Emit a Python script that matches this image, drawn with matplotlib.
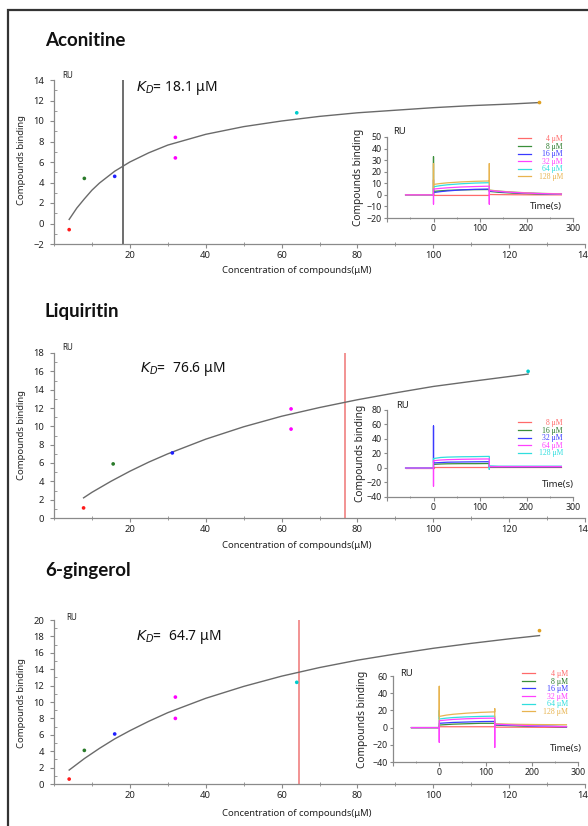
import matplotlib
matplotlib.use("Agg")
import matplotlib.pyplot as plt
from matplotlib.patches import Rectangle
from matplotlib.ticker import MultipleLocator, FixedLocator

W, H = 588, 826
plt.rcParams['font.family'] = ['Noto Sans', 'DejaVu Sans']

# ---------------- data ----------------
titles = ["Aconitine", "Liquiritin", "6-gingerol"]
kd_values = [18.1, 76.6, 64.7]
kd_texts = [r"$K_D$= 18.1 μM", r"$K_D$=  76.6 μM", r"$K_D$=  64.7 μM"]

# steady-state points (concentration, response)
aco_conc = [4, 8, 16, 32, 32, 64, 128]
aco_resp = [-0.6, 4.4, 4.6, 8.4, 6.4, 10.8, 11.8]
aco_pcol = ["red", "green", "blue", "magenta", "magenta", "cyan", "orange"]

liq_conc = [7.8, 15.6, 31.2, 62.5, 62.5, 125]
liq_resp = [1.1, 5.9, 7.1, 11.9, 9.7, 16.0]
liq_pcol = ["red", "green", "blue", "magenta", "magenta", "cyan"]

gin_conc = [4, 8, 16, 32, 32, 64, 128]
gin_resp = [0.6, 4.1, 6.1, 10.6, 8.0, 12.4, 18.7]
gin_pcol = ["red", "green", "blue", "magenta", "magenta", "cyan", "orange"]

# fitted curves
aco_fit_x = [4, 6, 8, 10, 12, 16, 20, 25, 30, 40, 50, 60, 70, 80, 90, 100, 110, 120, 128]
aco_fit_y = [0.4, 1.5, 2.4, 3.25, 3.95, 5.1, 6.0, 6.9, 7.65, 8.7, 9.45, 10.0, 10.45, 10.8, 11.05, 11.3, 11.5, 11.65, 11.8]
liq_fit_x = [7.8, 10, 15, 20, 25, 30, 40, 50, 60, 70, 80, 90, 100, 110, 125]
liq_fit_y = [2.2, 2.8, 4.0, 5.1, 6.1, 7.0, 8.6, 9.95, 11.1, 12.05, 12.9, 13.65, 14.35, 14.9, 15.7]
gin_fit_x = [4, 8, 12, 16, 20, 25, 30, 40, 50, 60, 70, 80, 90, 100, 110, 120, 128]
gin_fit_y = [1.7, 3.1, 4.35, 5.5, 6.5, 7.65, 8.7, 10.45, 11.9, 13.15, 14.2, 15.1, 15.85, 16.55, 17.15, 17.7, 18.1]

# sensorgrams (inset)
sg_time = [-60, 0, 0, 0, 15, 30, 60, 90, 120, 120, 120, 140, 170, 220, 275]

aco_sg_labels = ["4 μM", "8 μM", "16 μM", "32 μM", "64 μM", "128 μM"]
aco_sg_cols = ["red", "green", "blue", "magenta", "cyan", "orange"]
aco_sg = [
    [0, 0, 13, -0.5, -0.5, -0.5, -0.5, -0.5, -0.5, -0.5, 0.3, 0.2, 0.1, 0.0, 0.0],
    [0, 0, 33, 3.0, 3.5, 3.9, 4.3, 4.5, 4.6, 4.6, 3.0, 2.2, 1.5, 0.8, 0.4],
    [0, 0, 2, 2.0, 2.8, 3.4, 4.3, 4.8, 5.0, 5.0, 3.5, 2.8, 2.0, 1.2, 0.6],
    [0, 0, -8, 5.0, 5.6, 6.1, 6.8, 7.2, 7.5, -8, 3.8, 3.0, 2.1, 1.2, 0.7],
    [0, 0, 5, 7.0, 8.0, 8.7, 9.6, 10.2, 10.5, 10.5, 4.0, 3.2, 2.3, 1.3, 0.8],
    [0, 0, 27, 9.0, 9.8, 10.4, 11.2, 11.7, 12.0, 27, 4.2, 3.3, 2.4, 1.4, 0.9],
]
liq_sg_labels = ["8 μM", "16 μM", "32 μM", "64 μM", "128 μM"]
liq_sg_cols = ["red", "green", "blue", "magenta", "cyan"]
liq_sg = [
    [0, 0, 0, 2, 2, 2, 2, 2, 2, 2, 1, 1, 1, 1, 1],
    [0, 0, 0, 5, 5.5, 5.8, 6, 6, 6.2, 6.2, 1.5, 1.5, 1.5, 1.5, 1.5],
    [0, 0, 58, 7, 7.5, 8, 8.3, 8.5, 8.7, 8.7, 1.8, 1.8, 1.7, 1.7, 1.7],
    [0, 0, -25, 10, 11, 11.5, 12, 12.3, 12.5, 12.5, 2, 2, 2, 2, 2],
    [0, 0, 5, 13, 14.5, 15, 15.5, 15.7, 16, -2, 3, 2.5, 2.5, 2.5, 2.5],
]
gin_sg_labels = ["4 μM", "8 μM", "16 μM", "32 μM", "64 μM", "128 μM"]
gin_sg_cols = ["red", "green", "blue", "magenta", "cyan", "orange"]
gin_sg = [
    [0, 0, 0, 1, 1, 1, 1, 1, 1, 1, 0.5, 0.5, 0.5, 0.3, 0.3],
    [0, 0, 0, 3, 3.5, 4, 4.5, 5, 5, 5, 3, 2.5, 2, 1.5, 1],
    [0, 0, 0, 5, 5.5, 6, 6.5, 7, 7.2, 7.2, 3.5, 3, 2.5, 1.5, 1],
    [0, 0, -17, 8, 8.8, 9.5, 10.3, 10.8, 11, -23, 4, 3.5, 2.8, 1.8, 1.2],
    [0, 0, 20, 10, 11, 11.7, 12.5, 13, 13.3, 13.3, 4, 3.6, 3, 2, 1.3],
    [0, 0, 48, 13, 14.5, 15.5, 16.8, 17.7, 18.3, 22, 4.5, 4.2, 3.8, 3.5, 3.3],
]

# ---------------- styles ----------------
PT = {"red": "#ff1a1a", "green": "#2a7a2a", "blue": "#2020ff", "magenta": "#ff00ff",
      "cyan": "#00cccc", "orange": "#e0a020"}
LN = {"red": "#ff6a6a", "green": "#3a8f3a", "blue": "#3a3aff", "magenta": "#ff40ff",
      "cyan": "#30dede", "orange": "#e8b450"}
AXC = "#8a8a8a"
TXC = "#222222"

fig = plt.figure(figsize=(W / 100, H / 100), dpi=100)


def box(x0, y0, x1, y1):
    return [x0 / W, 1 - y1 / H, (x1 - x0) / W, (y1 - y0) / H]


def style_axes(ax, fs, pad=2):
    for s in ["top", "right"]:
        ax.spines[s].set_visible(False)
    for s in ["left", "bottom"]:
        ax.spines[s].set_color(AXC)
        ax.spines[s].set_linewidth(0.9)
    ax.tick_params(which="major", length=3, width=0.8, color=AXC, labelsize=fs,
                   labelcolor=TXC, pad=pad)
    ax.tick_params(which="minor", length=2, width=0.6, color=AXC)
    ax.patch.set_alpha(0)


panels = [
    dict(title=titles[0], tpos=(45, 46), main=(54, 80, 585, 244), ylim=(-2, 14),
         conc=aco_conc, resp=aco_resp, pcol=aco_pcol, fx=aco_fit_x, fy=aco_fit_y,
         kd=kd_values[0], kdtxt=kd_texts[0], kdpos=(136, 88), kdcol="#555555",
         ylab_y=160, xlab_y=270, ru=(62, 76),
         inset=(387, 137, 573, 218), iylim=(-20, 50), istep=10,
         sg=aco_sg, sgcol=aco_sg_cols, sglab=aco_sg_labels,
         iru=(393, 132), itime=(546, 207), iylab_x=359,
         leg=(563, 135), legfs=5.5),
    dict(title=titles[1], tpos=(45, 317), main=(54, 353, 585, 518), ylim=(0, 18),
         conc=liq_conc, resp=liq_resp, pcol=liq_pcol, fx=liq_fit_x, fy=liq_fit_y,
         kd=kd_values[1], kdtxt=kd_texts[1], kdpos=(140, 369), kdcol="#f08080",
         ylab_y=435, xlab_y=545, ru=(62, 347),
         inset=(387, 410, 573, 497), iylim=(-40, 80), istep=20,
         sg=liq_sg, sgcol=liq_sg_cols, sglab=liq_sg_labels,
         iru=(396, 406), itime=(558, 485), iylab_x=360,
         leg=(563, 419), legfs=5.5),
    dict(title=titles[2], tpos=(45, 576), main=(54, 620, 585, 784), ylim=(0, 20),
         conc=gin_conc, resp=gin_resp, pcol=gin_pcol, fx=gin_fit_x, fy=gin_fit_y,
         kd=kd_values[2], kdtxt=kd_texts[2], kdpos=(136, 637), kdcol="#f08080",
         ylab_y=703, xlab_y=813, ru=(66, 617),
         inset=(393, 676, 578, 762), iylim=(-40, 60), istep=20,
         sg=gin_sg, sgcol=gin_sg_cols, sglab=gin_sg_labels,
         iru=(400, 674), itime=(566, 749), iylab_x=363,
         leg=(568, 670), legfs=5.7),
]

legends = []
for p in panels:
    ax = fig.add_axes(box(*p["main"]))
    style_axes(ax, 6.8)
    ax.set_xlim(0, 140)
    ax.set_ylim(*p["ylim"])
    ax.xaxis.set_major_locator(FixedLocator([20, 40, 60, 80, 100, 120, 140]))
    ax.xaxis.set_minor_locator(MultipleLocator(10))
    ax.yaxis.set_major_locator(MultipleLocator(2))
    ax.yaxis.set_minor_locator(MultipleLocator(1))
    ax.tick_params(axis="y", which="major", pad=4)
    ax.tick_params(axis="y", which="minor", direction="in", length=2)
    ax.tick_params(axis="x", which="minor", direction="inout", length=2.5)
    ax.plot(p["fx"], p["fy"], color="#6a6a6a", lw=1.0, zorder=2)
    ax.axvline(p["kd"], color=p["kdcol"], lw=1.2, zorder=1)
    ax.scatter(p["conc"], p["resp"], c=[PT[c] for c in p["pcol"]], s=7, zorder=3,
               linewidths=0)
    fig.text(p["tpos"][0] / W, 1 - p["tpos"][1] / H, p["title"], fontsize=13.5,
             fontweight="bold", family=["Lato", "DejaVu Sans"], va="baseline", ha="left",
             color="#111111")
    fig.text(p["kdpos"][0] / W, 1 - p["kdpos"][1] / H, p["kdtxt"], fontsize=10,
             va="center", ha="left", color="#111111")
    fig.text(22 / W, 1 - p["ylab_y"] / H, "Compounds binding", rotation=90,
             fontsize=6.8, va="center", ha="center", color=TXC)
    fig.text(297 / W, 1 - p["xlab_y"] / H, "Concentration of compounds(μM)",
             fontsize=6.8, va="center", ha="center", color=TXC)
    fig.text(p["ru"][0] / W, 1 - p["ru"][1] / H, "RU", fontsize=5.8, va="center",
             ha="left", color=TXC)

    # inset sensorgram
    ia = fig.add_axes(box(*p["inset"]))
    style_axes(ia, 6.4, pad=1.5)
    ia.set_xlim(-100, 300)
    ia.set_ylim(*p["iylim"])
    ia.xaxis.set_major_locator(FixedLocator([-100, 0, 100, 200, 300]))
    ia.set_xticklabels(["", "0", "100", "200", "300"])
    ia.xaxis.set_minor_locator(MultipleLocator(50))
    ia.yaxis.set_major_locator(MultipleLocator(p["istep"]))
    ia.tick_params(axis="x", which="minor", direction="inout", length=2)
    ia.tick_params(axis="y", which="major", length=2.5)
    handles = []
    for vals, col, lab in zip(p["sg"], p["sgcol"], p["sglab"]):
        z = 3 if col == "magenta" else 2
        h, = ia.plot(sg_time, vals, color=LN[col], lw=0.9, label=lab, zorder=z)
        handles.append(h)
    fig.text(p["iru"][0] / W, 1 - p["iru"][1] / H, "RU", fontsize=6.8, va="center",
             ha="left", color=TXC)
    fig.text(p["itime"][0] / W, 1 - p["itime"][1] / H, "Time(s)", fontsize=6.8,
             va="center", ha="center", color=TXC)
    fig.text(p["iylab_x"] / W, 1 - ((p["inset"][1] + p["inset"][3]) / 2) / H,
             "Compounds binding", rotation=90, fontsize=7.3, va="center", ha="center",
             color=TXC)
    leg = fig.legend(handles=handles, loc="upper right",
                     bbox_to_anchor=(p["leg"][0] / W, 1 - p["leg"][1] / H),
                     bbox_transform=fig.transFigure, frameon=False, borderpad=0,
                     borderaxespad=0, handlelength=1.7, handletextpad=1.0,
                     labelspacing=-0.05,
                     prop={"family": ["Liberation Serif", "DejaVu Serif"],
                           "size": p["legfs"]})
    for t, col in zip(leg.get_texts(), p["sgcol"]):
        t.set_color(LN[col] if col != "green" else "#2a7a2a")
    legends.append(leg)

# outer frame
fig.patches.append(Rectangle((8 / W, -0.05), 1.2, 1 - 10 / H + 0.05,
                             transform=fig.transFigure, fill=False,
                             edgecolor="#333333", lw=1.6))

# right-align legend labels (shift each label inside its own text area)
fig.canvas.draw()
r = fig.canvas.get_renderer()
for leg in legends:
    texts = leg.get_texts()
    widths = [t.get_window_extent(r).width for t in texts]
    maxw = max(widths)
    for t, w in zip(texts, widths):
        t.set_position((maxw - w, 0))

fig.savefig("out.png", dpi=100)
